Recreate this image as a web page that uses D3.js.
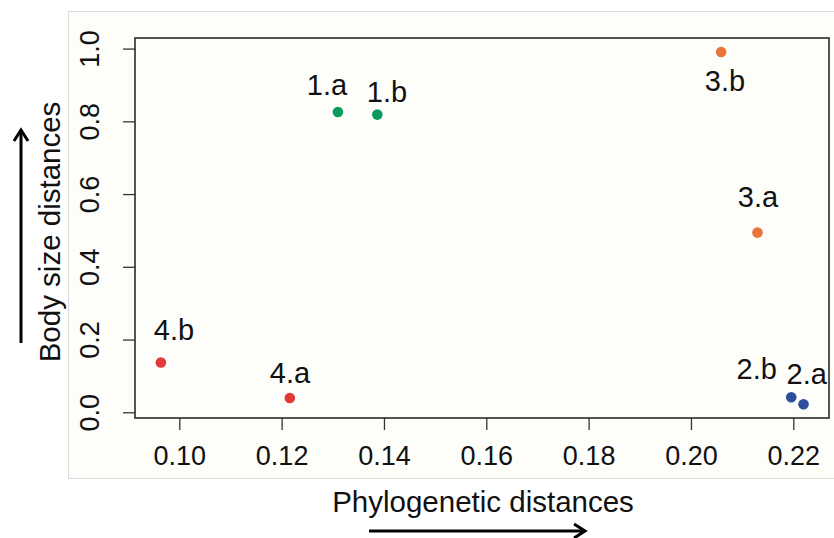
<!DOCTYPE html>
<html>
<head>
<meta charset="utf-8">
<script src="https://cdn.jsdelivr.net/npm/d3@7"></script>
<style>
  body { margin: 0; background: #ffffff; }
  svg text { font-family: "Liberation Sans", Arial, Helvetica, sans-serif; fill: #111; }
</style>
</head>
<body>
<div id="chart"></div>
<script>
// point data
var names  = ["1.a", "1.b", "2.a", "2.b", "3.a", "3.b", "4.a", "4.b"];
var groups = [1, 1, 2, 2, 3, 3, 4, 4];
var phylo  = [0.1310, 0.1387, 0.2220, 0.2196, 0.2130, 0.2059, 0.1216, 0.0964];
var body   = [0.8257, 0.8185, 0.0220, 0.0412, 0.4941, 0.9907, 0.0393, 0.1367];
// where the labels were put (data units, like text(x, y, ...))
var labelX = [0.12887, 0.14059, 0.22262, 0.21285, 0.2131, 0.20665, 0.12164, 0.09896];
var labelY = [0.899, 0.881, 0.1059, 0.1196, 0.592, 0.910, 0.1072, 0.2255];

var xTicks = [0.10, 0.12, 0.14, 0.16, 0.18, 0.20, 0.22];
var yTicks = [0.0, 0.2, 0.4, 0.6, 0.8, 1.0];
var groupColors = ["#0a9b5c", "#2c4e9c", "#e9753a", "#e23a38"];

var W = 834, H = 538;
var margin = {top: 38, right: 5, bottom: 120, left: 135},
    width = W - margin.left - margin.right,
    height = H - margin.top - margin.bottom;

var svg = d3.select("#chart").append("svg")
    .attr("width", W)
    .attr("height", H);

// light panel behind the figure
svg.append("rect")
    .attr("x", 68.5).attr("y", 11.5)
    .attr("width", W - 68).attr("height", 467)
    .attr("fill", "#fdfdf9")
    .attr("stroke", "#dcdcdc");

var g = svg.append("g")
    .attr("transform", "translate(" + margin.left + "," + margin.top + ")");

var x = d3.scaleLinear().domain([0.09134, 0.22698]).range([0, width]);
var y = d3.scaleLinear().domain([-0.0157, 1.0291]).range([height, 0]);

// axes, R style: ticks outside, no domain line
var xAxis = g.append("g")
    .attr("transform", "translate(0," + height + ")")
    .call(d3.axisBottom(x)
        .tickValues(xTicks)
        .tickSize(12)
        .tickPadding(16)
        .tickFormat(d3.format(".2f")));
xAxis.select(".domain").remove();
xAxis.selectAll("line").attr("stroke", "#333").attr("stroke-width", 1.3);
xAxis.selectAll("text")
    .attr("font-size", "27px")
    .attr("fill", "#111")
    .attr("font-family", "Liberation Sans, Arial, sans-serif");

var yAxis = g.append("g")
    .call(d3.axisLeft(y)
        .tickValues(yTicks)
        .tickSize(12)
        .tickFormat(d3.format(".1f")));
yAxis.select(".domain").remove();
yAxis.selectAll("line").attr("stroke", "#333").attr("stroke-width", 1.3);
yAxis.selectAll("text").remove();
yAxis.selectAll(".tick").append("text")
    .attr("transform", "translate(-36,0) rotate(-90)")
    .attr("text-anchor", "middle")
    .attr("font-size", "27px")
    .attr("fill", "#111")
    .text(function(d) { return d3.format(".1f")(d); });

// plot box
g.append("rect")
    .attr("width", width).attr("height", height)
    .attr("fill", "none")
    .attr("stroke", "#2a2a2a")
    .attr("stroke-width", 1.6);

var idx = d3.range(names.length);

g.selectAll(".pt")
    .data(idx)
    .enter().append("circle")
    .attr("class", "pt")
    .attr("cx", function(i) { return x(phylo[i]); })
    .attr("cy", function(i) { return y(body[i]); })
    .attr("r", 5.3)
    .attr("fill", function(i) { return groupColors[groups[i] - 1]; });

g.selectAll(".lab")
    .data(idx)
    .enter().append("text")
    .attr("class", "lab")
    .attr("x", function(i) { return x(labelX[i]); })
    .attr("y", function(i) { return y(labelY[i]); })
    .attr("dy", "0.35em")
    .attr("text-anchor", "middle")
    .attr("font-size", "29px")
    .text(function(i) { return names[i]; });

// axis titles
svg.append("text")
    .attr("x", 483).attr("y", 512)
    .attr("text-anchor", "middle")
    .attr("font-size", "29.5px")
    .text("Phylogenetic distances");

svg.append("text")
    .attr("transform", "translate(60,232) rotate(-90)")
    .attr("text-anchor", "middle")
    .attr("font-size", "29.5px")
    .text("Body size distances");

// arrows next to the titles
function arrow(x1, y1, x2, y2) {
    var a = Math.atan2(y2 - y1, x2 - x1), len = 13, spread = Math.PI / 5.5;
    svg.append("line")
        .attr("x1", x1).attr("y1", y1).attr("x2", x2).attr("y2", y2)
        .attr("stroke", "#000").attr("stroke-width", 3);
    svg.append("path")
        .attr("d", "M" + (x2 - len * Math.cos(a - spread)) + "," + (y2 - len * Math.sin(a - spread)) +
                   "L" + x2 + "," + y2 +
                   "L" + (x2 - len * Math.cos(a + spread)) + "," + (y2 - len * Math.sin(a + spread)))
        .attr("fill", "none")
        .attr("stroke", "#000").attr("stroke-width", 3)
        .attr("stroke-linejoin", "miter");
}
arrow(369, 531, 585, 531);
arrow(21, 343, 21, 130);
</script>
</body>
</html>
